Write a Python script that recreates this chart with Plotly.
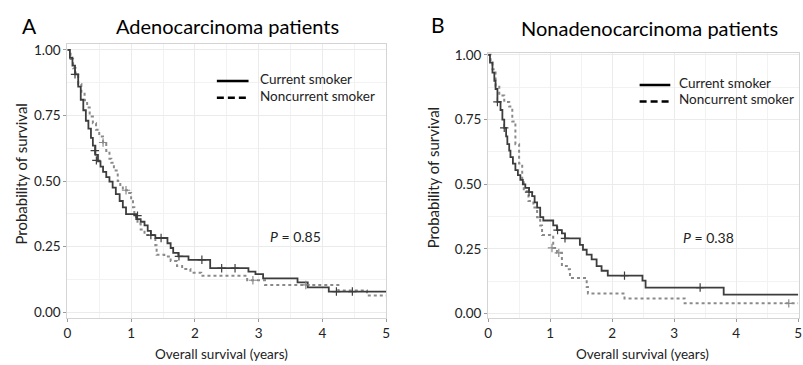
import plotly.graph_objects as go

# ---------------- data ----------------
# Panel A: Adenocarcinoma patients
a_cur_t = [0, 0.04, 0.08, 0.12, 0.17, 0.21, 0.25, 0.29, 0.33, 0.37, 0.40, 0.44, 0.48, 0.52,
           0.56, 0.61, 0.66, 0.71, 0.76, 0.82, 0.87, 0.92, 1.08, 1.15, 1.21, 1.26, 1.31, 1.38,
           1.57, 1.62, 1.66, 1.74, 1.90, 2.24, 2.84, 2.95, 3.07, 3.61, 3.77, 4.10, 5.0]
a_cur_s = [1.0, 0.97, 0.94, 0.907, 0.86, 0.81, 0.77, 0.73, 0.70, 0.665, 0.635, 0.60, 0.575, 0.555,
           0.535, 0.515, 0.498, 0.475, 0.45, 0.424, 0.40, 0.374, 0.355, 0.345, 0.331, 0.31, 0.294, 0.283,
           0.263, 0.245, 0.226, 0.213, 0.20, 0.168, 0.155, 0.145, 0.129, 0.114, 0.095, 0.079, 0.079]
a_non_t = [0, 0.05, 0.09, 0.13, 0.17, 0.22, 0.27, 0.31, 0.35, 0.40, 0.45, 0.50, 0.56, 0.61,
           0.66, 0.69, 0.73, 0.79, 0.83, 0.87, 0.97, 1.00, 1.03, 1.05, 1.08, 1.10, 1.15, 1.21,
           1.38, 1.40, 1.52, 1.62, 1.72, 1.80, 1.93, 2.10, 2.82, 3.10, 4.25, 4.70, 5.0]
a_non_s = [1.0, 0.965, 0.93, 0.90, 0.87, 0.84, 0.808, 0.78, 0.746, 0.72, 0.696, 0.67, 0.647, 0.615,
           0.585, 0.57, 0.54, 0.50, 0.48, 0.465, 0.455, 0.43, 0.40, 0.374, 0.355, 0.337, 0.315, 0.294,
           0.255, 0.219, 0.213, 0.195, 0.176, 0.165, 0.151, 0.139, 0.122, 0.104, 0.083, 0.064, 0.064]
a_cur_cens_t = [0.12, 0.43, 0.455, 1.10, 1.31, 1.47, 1.75, 2.11, 2.42, 2.63, 4.22, 4.47]
a_cur_cens_s = [0.907, 0.616, 0.579, 0.368, 0.294, 0.283, 0.213, 0.20, 0.168, 0.168, 0.079, 0.079]
a_non_cens_t = [0.56, 0.92, 2.91, 3.74]
a_non_cens_s = [0.647, 0.465, 0.122, 0.104]

# Panel B: Nonadenocarcinoma patients
b_cur_t = [0, 0.03, 0.07, 0.10, 0.12, 0.15, 0.20, 0.23, 0.26, 0.29, 0.31, 0.34, 0.36, 0.40,
           0.44, 0.48, 0.52, 0.56, 0.60, 0.66, 0.71, 0.75, 0.79, 0.84, 0.89, 1.05, 1.11, 1.19,
           1.24, 1.48, 1.53, 1.59, 1.67, 1.75, 1.83, 1.93, 2.49, 2.54, 3.80, 5.0]
b_cur_s = [1.0, 0.97, 0.931, 0.90, 0.868, 0.818, 0.787, 0.75, 0.718, 0.685, 0.655, 0.63, 0.605, 0.58,
           0.555, 0.535, 0.517, 0.50, 0.486, 0.47, 0.454, 0.43, 0.41, 0.373, 0.36, 0.341, 0.323, 0.31,
           0.291, 0.266, 0.247, 0.228, 0.21, 0.184, 0.166, 0.147, 0.128, 0.101, 0.074, 0.074]
b_non_t = [0, 0.04, 0.07, 0.12, 0.18, 0.26, 0.34, 0.39, 0.44, 0.50, 0.55, 0.575, 0.65, 0.73,
           0.79, 0.84, 0.87, 1.00, 1.05, 1.11, 1.19, 1.27, 1.32, 1.59, 1.61, 2.20, 3.17, 5.0]
b_non_s = [1.0, 0.97, 0.944, 0.881, 0.843, 0.818, 0.80, 0.743, 0.655, 0.58, 0.517, 0.473, 0.435, 0.41,
           0.373, 0.341, 0.304, 0.297, 0.254, 0.235, 0.184, 0.172, 0.138, 0.103, 0.078, 0.059, 0.04, 0.04]
b_cur_cens_t = [0.15, 0.26, 0.66, 1.12, 1.24, 2.20, 3.42]
b_cur_cens_s = [0.818, 0.718, 0.47, 0.323, 0.291, 0.147, 0.101]
b_non_cens_t = [1.03, 1.14, 4.85]
b_non_cens_s = [0.254, 0.235, 0.04]

series_names = ["Current smoker", "Noncurrent smoker"]
panel_titles = ["Adenocarcinoma patients", "Nonadenocarcinoma patients"]
panel_letters = ["A", "B"]
p_values = ["0.85", "0.38"]
x_ticks = [0, 1, 2, 3, 4, 5]
y_ticks = [0.0, 0.25, 0.5, 0.75, 1.0]

# ---------------- styling ----------------
W, H = 803, 365
FONT = "Lato"
CUR_COLOR = "#3d3d3d"
NON_COLOR = "#8a8a8a"
TXT = "#222222"


def px_x(p):
    return p / W


def px_y(p):
    return 1 - p / H


fig = go.Figure()

panels = [
    dict(cur=(a_cur_t, a_cur_s), non=(a_non_t, a_non_s),
         ccen=(a_cur_cens_t, a_cur_cens_s), ncen=(a_non_cens_t, a_non_cens_s),
         xa="x", ya="y"),
    dict(cur=(b_cur_t, b_cur_s), non=(b_non_t, b_non_s),
         ccen=(b_cur_cens_t, b_cur_cens_s), ncen=(b_non_cens_t, b_non_cens_s),
         xa="x2", ya="y2"),
]

for i, p in enumerate(panels):
    fig.add_trace(go.Scatter(x=p["non"][0], y=p["non"][1], mode="lines", line_shape="hv",
                             line=dict(color=NON_COLOR, width=2, dash="3px,3px"),
                             xaxis=p["xa"], yaxis=p["ya"], showlegend=False, hoverinfo="skip"))
    fig.add_trace(go.Scatter(x=p["cur"][0], y=p["cur"][1], mode="lines", line_shape="hv",
                             line=dict(color=CUR_COLOR, width=1.8),
                             xaxis=p["xa"], yaxis=p["ya"], showlegend=False, hoverinfo="skip"))
    fig.add_trace(go.Scatter(x=p["ncen"][0], y=p["ncen"][1], mode="markers",
                             marker=dict(symbol="cross-thin-open", size=6, color=NON_COLOR,
                                         line=dict(color=NON_COLOR, width=1.2)),
                             xaxis=p["xa"], yaxis=p["ya"], showlegend=False, hoverinfo="skip"))
    fig.add_trace(go.Scatter(x=p["ccen"][0], y=p["ccen"][1], mode="markers",
                             marker=dict(symbol="cross-thin-open", size=6, color=CUR_COLOR,
                                         line=dict(color=CUR_COLOR, width=1.2)),
                             xaxis=p["xa"], yaxis=p["ya"], showlegend=False, hoverinfo="skip"))

axis_common = dict(
    showline=True, mirror=True, linecolor="#d4d4d4", linewidth=1,
    showgrid=True, gridcolor="#ebebeb", gridwidth=1,
    ticks="outside", ticklen=3, tickcolor="#9a9a9a", tickwidth=1,
    tickfont=dict(family=FONT, size=13.5, color=TXT),
    zeroline=False, fixedrange=True,
)

fig.update_layout(
    width=W, height=H, autosize=False,
    margin=dict(l=0, r=0, t=0, b=0),
    paper_bgcolor="white", plot_bgcolor="white",
    font=dict(family=FONT, color=TXT),
    showlegend=False,
    xaxis=dict(axis_common, domain=[px_x(64), px_x(386)], range=[0, 5],
               tickvals=x_ticks, anchor="y",
               minor=dict(dtick=0.5, showgrid=True, gridcolor="#f2f2f2")),
    yaxis=dict(axis_common, domain=[px_y(320), px_y(39)], range=[-0.0223, 1.0223],
               tickvals=y_ticks, tickformat=".2f", anchor="x",
               minor=dict(dtick=0.125, showgrid=True, gridcolor="#f2f2f2")),
    xaxis2=dict(axis_common, domain=[px_x(489), px_x(803)], range=[0, 5.015],
                tickvals=x_ticks, anchor="y2",
                minor=dict(dtick=0.5, showgrid=True, gridcolor="#f2f2f2")),
    yaxis2=dict(axis_common, domain=[px_y(320), px_y(47.7)], range=[-0.017, 1.009],
                tickvals=y_ticks, tickformat=".2f", anchor="x2",
                minor=dict(dtick=0.125, showgrid=True, gridcolor="#f2f2f2")),
)

ann = []


def text(t, x, y, size, color=TXT, angle=0, xanchor="center"):
    # glyphs sit a little below the box centre; lift by ~0.2 em
    if angle == 0:
        y = y - 0.2 * size
    else:
        x = x - 0.2 * size
    ann.append(dict(text=t, x=px_x(x), y=px_y(y), xref="paper", yref="paper",
                    xanchor=xanchor, yanchor="middle", showarrow=False, textangle=angle,
                    font=dict(family=FONT, size=size, color=color)))


# panel letters and titles
text(panel_letters[0], 26, 24, 21, "black")
text(panel_letters[1], 438, 23, 21, "black")
text(panel_titles[0], 225.5, 25, 20, "black")
text(panel_titles[1], 651.5, 27, 20, "black")
# axis titles
text("Overall survival (years)", 220, 359, 13.5)
text("Overall survival (years)", 645, 359, 13.5)
text("Probability of survival", 20, 172, 15, angle=-90)
text("Probability of survival", 436, 176, 15, angle=-90)
# p values
text("<i>P</i> = " + p_values[0], 294, 239, 14)
text("<i>P</i> = " + p_values[1], 712, 240, 14)

# legends (sample line + label)
legend_rows = [
    # (x0, x1, y, text_x, name, dash)
    (215, 247, 77, 257, series_names[0], "solid"),
    (215, 247, 94, 257, series_names[1], "7px,4px"),
    (642, 673, 81, 680, series_names[0], "solid"),
    (642, 673, 98, 680, series_names[1], "7px,4px"),
]
shapes = []
for x0, x1, y, tx, name, dash in legend_rows:
    shapes.append(dict(type="line", xref="paper", yref="paper",
                       x0=px_x(x0), x1=px_x(x1), y0=px_y(y), y1=px_y(y),
                       line=dict(color="black", width=2.5, dash=dash)))
    text(name, tx, y + 0.5, 13.5, xanchor="left")

fig.update_layout(annotations=ann, shapes=shapes)

fig.write_html(
    "out.html",
    config={"displayModeBar": False},
    post_script="document.body.style.margin='0';document.body.style.overflow='hidden';",
)
